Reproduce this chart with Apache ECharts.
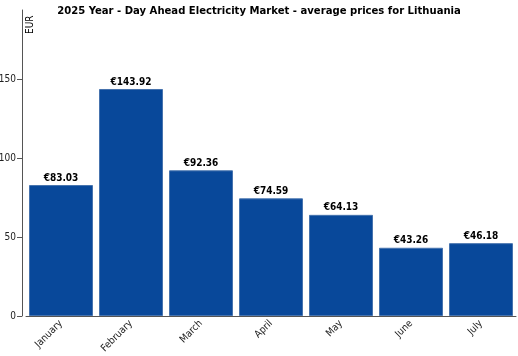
<!DOCTYPE html>
<html><head><meta charset="utf-8">
<script src="https://cdn.jsdelivr.net/npm/echarts@6/dist/echarts.min.js"></script>
<style>html,body{margin:0;padding:0;background:#fff}#c{width:518px;height:356px}</style>
</head><body><div id="c"></div>
<script>
const categories = ['January','February','March','April','May','June','July'];
const prices = [83.03, 143.92, 92.36, 74.59, 64.13, 43.26, 46.18];
const yTicks = [0, 50, 100, 150];
const titleText = '2025 Year - Day Ahead Electricity Market - average prices for Lithuania';
const unitLabel = 'EUR';

const chart = echarts.init(document.getElementById('c'), null, {renderer:'canvas'});
const font = '"DejaVu Sans Condensed", "DejaVu Sans", sans-serif';
chart.setOption({
  animation:false,
  title:{text:titleText,left:254,textAlign:'center',top:1,textStyle:{fontFamily:font,fontSize:11.2,fontWeight:'bold',color:'#000'}},
  grid:{left:26,right:2,top:10,bottom:40,containLabel:false,outerBoundsMode:'none'},
  xAxis:{type:'category',data:categories,
    axisLine:{lineStyle:{color:'#555',width:1}},
    axisTick:{alignWithLabel:true,length:5,lineStyle:{color:'#555'}},
    axisLabel:{rotate:45,fontFamily:font,fontSize:10,color:'#222',margin:6}},
  yAxis:{type:'value',min:0,max:194,interval:50,offset:4,
    axisLine:{show:true,lineStyle:{color:'#555',width:1}},
    axisTick:{show:true,length:5,lineStyle:{color:'#555'}},
    splitLine:{show:false},
    axisLabel:{showMaxLabel:false,fontFamily:font,fontSize:10,color:'#222',margin:6}},
  graphic:[{type:'text',x:25,y:34,rotation:Math.PI/2,style:{text:unitLabel,font:'10px '+font,fill:'#000',textVerticalAlign:'top'}}],
  series:[{type:'bar',data:prices,barCategoryGap:'8.6%',
    itemStyle:{color:'#08489a',borderColor:'#4673ae',borderWidth:1},
    label:{show:true,position:'top',distance:2,formatter:p=>'€'+p.value.toFixed(2),
      fontFamily:font,fontSize:10,fontWeight:'bold',color:'#000'}}]
});
</script></body></html>
